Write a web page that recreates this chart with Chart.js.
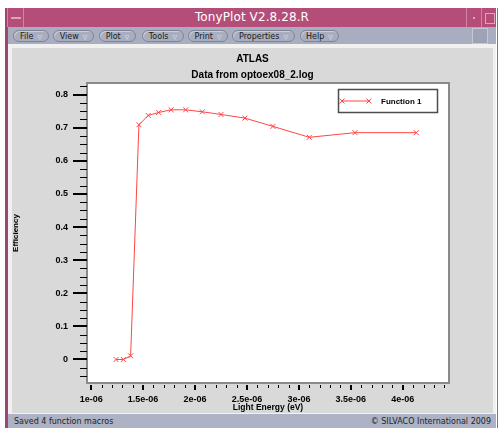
<!DOCTYPE html>
<html>
<head>
<meta charset="utf-8">
<title>TonyPlot V2.8.28.R</title>
<script src="https://cdn.jsdelivr.net/npm/chart.js@4.4.1/dist/chart.umd.min.js"></script>
<style>
  html, body { margin: 0; padding: 0; background: #fff; width: 498px; height: 428px; overflow: hidden; }
  body { position: relative; font-family: "DejaVu Sans", sans-serif; }
  .abs { position: absolute; box-sizing: border-box; }
  #edgeL { left: 5px; top: 8px; width: 3px; height: 420px; background: #9c4670; }
  #edgeR { left: 497px; top: 8px; width: 1px; height: 420px; background: #7a7a7a; }
  #titlebar { left: 7px; top: 8px; width: 489px; height: 19px; background: #b44e78; }
  #ttl { left: 24px; top: 0; width: 442px; height: 19px; line-height: 19px; text-align: center;
         color: #fff; font-size: 12px; font-family: "DejaVu Sans", sans-serif; letter-spacing: 0.1px; }
  #btnL { left: 0; top: 0; width: 17px; height: 19px; border-right: 1px solid #cf84a6; border-left: 1px solid #cf84a6; }
  #btnL i { position: absolute; left: 3px; top: 9px; width: 10px; height: 2px; background: #dca3bd; }
  .sep { top: 0; width: 1px; height: 19px; background: #cf84a6; }
  #dot { left: 466px; top: 9px; width: 2px; height: 2px; background: #dca3bd; }
  #sq { left: 478px; top: 5px; width: 10px; height: 11px; border: 1px solid #dca3bd; }
  #menubar { left: 8px; top: 27px; width: 488px; height: 17px; background: #a8aec0; }
  .pill { top: 3px; height: 12px; border: 1px solid #7f8597; border-radius: 6px;
          box-shadow: inset 1px 1px 0 #c9cdd8; font-size: 8px; color: #1a1a1a;
          display: flex; align-items: center; justify-content: center; white-space: nowrap; }
  .pill span { font-size: 6px; color: #e9ebf2; margin-left: 4px; }
  #mbox { left: 464px; top: 1px; width: 16px; height: 16px; background: #9da3b5; border: 1px solid #c4c8d4; }
  #content { left: 8px; top: 44px; width: 488px; height: 370px; background: #f1f1f1; }
  #panel { left: 12px; top: 48px; width: 481px; height: 365px; background: #d9d9d9; }
  #panel canvas { display: block; }
  #status { left: 8px; top: 414px; width: 488px; height: 14px; background: #adb3c5;
            font-size: 8px; color: #222; line-height: 14px; }
  #status .l { position: absolute; left: 6px; top: 1px; }
  #status .r { position: absolute; right: 5px; top: 1px; }
</style>
</head>
<body>
<div class="abs" id="edgeL"></div>
<div class="abs" id="titlebar">
  <div class="abs" id="btnL"><i></i></div>
  <div class="abs" id="ttl">TonyPlot V2.8.28.R</div>
  <div class="abs sep" style="left:459px"></div>
  <div class="abs" id="dot"></div>
  <div class="abs sep" style="left:474px"></div>
  <div class="abs" id="sq"></div>
</div>
<div class="abs" id="menubar">
  <div class="abs pill" style="left:5px;width:36px">File<span>▽</span></div>
  <div class="abs pill" style="left:45px;width:41px">View<span>▽</span></div>
  <div class="abs pill" style="left:91px;width:37px">Plot<span>▽</span></div>
  <div class="abs pill" style="left:134px;width:42px">Tools<span>▽</span></div>
  <div class="abs pill" style="left:180px;width:40px">Print<span>▽</span></div>
  <div class="abs pill" style="left:224px;width:63px">Properties<span>▽</span></div>
  <div class="abs pill" style="left:292px;width:39px">Help<span>▽</span></div>
  <div class="abs" id="mbox"></div>
</div>
<div class="abs" id="content"></div>
<div class="abs" id="panel"><canvas id="plot" width="481" height="365"></canvas></div>
<div class="abs" id="status"><span class="l">Saved 4 function macros</span><span class="r">© SILVACO International 2009</span></div>
<div class="abs" id="edgeR"></div>

<script>
// Photon energy sweep and the resulting efficiency
const energies = [1.24e-6, 1.31e-6, 1.38e-6, 1.46e-6, 1.55e-6, 1.65e-6, 1.77e-6, 1.91e-6,
                  2.07e-6, 2.25e-6, 2.48e-6, 2.75e-6, 3.10e-6, 3.54e-6, 4.13e-6];
const efficiency = [0.000, 0.000, 0.011, 0.709, 0.737, 0.746, 0.754, 0.754,
                    0.748, 0.740, 0.729, 0.704, 0.671, 0.685, 0.685];
const seriesName = 'Function 1';

const xTickValues = [1e-6, 1.5e-6, 2e-6, 2.5e-6, 3e-6, 3.5e-6, 4e-6];
const xTickLabels = ['1e-06', '1.5e-06', '2e-06', '2.5e-06', '3e-06', '3.5e-06', '4e-06'];
const yTickValues = [0, 0.1, 0.2, 0.3, 0.4, 0.5, 0.6, 0.7, 0.8];
const yTickLabels = ['0', '0.1', '0.2', '0.3', '0.4', '0.5', '0.6', '0.7', '0.8'];

const X_MIN = 0.96e-6, X_MAX = 4.445e-6;
const Y_MIN = -0.071, Y_MAX = 0.835;
const LINE_RED = '#ff4545';

Chart.defaults.font.family = "'Liberation Sans', Arial, sans-serif";
Chart.defaults.color = '#000';

// White plot box, gray frame, major/minor tick marks and the boxed legend
const tonyFrame = {
  id: 'tonyFrame',
  beforeDraw(chart) {
    const { ctx, chartArea: a } = chart;
    ctx.save();
    ctx.fillStyle = '#ffffff';
    ctx.fillRect(a.left, a.top, a.right - a.left, a.bottom - a.top);
    ctx.restore();
  },
  afterDatasetsDraw(chart) {
    const { ctx, chartArea: a } = chart;
    ctx.save();
    ctx.strokeStyle = '#8a8a8a';
    ctx.lineWidth = 2;
    ctx.strokeRect(a.left, a.top, a.right - a.left, a.bottom - a.top);

    // legend
    const ds = chart.data.datasets[0];
    const bw = 99, bh = 23;
    const bx = Math.round(a.right - 12 - bw), by = Math.round(a.top + 6);
    ctx.strokeStyle = '#4d4d4d';
    ctx.lineWidth = 1.5;
    ctx.strokeRect(bx + 0.5, by + 0.5, bw, bh);
    const ly = by + bh / 2 + 0.5;
    const lx1 = bx + 4, lx2 = bx + 31;
    ctx.strokeStyle = ds.borderColor;
    ctx.lineWidth = 1;
    ctx.beginPath(); ctx.moveTo(lx1, ly); ctx.lineTo(lx2, ly); ctx.stroke();
    const ps = { pointStyle: ds.pointStyle, radius: ds.pointRadius, borderWidth: 1 };
    Chart.helpers.drawPoint(ctx, ps, lx1, ly);
    Chart.helpers.drawPoint(ctx, ps, lx2, ly);
    ctx.fillStyle = '#000';
    ctx.font = "bold 8px 'Liberation Sans', Arial, sans-serif";
    ctx.textBaseline = 'middle';
    ctx.textAlign = 'left';
    ctx.fillText(ds.label, bx + 43, ly + 0.5);
    ctx.restore();
  },
  afterDraw(chart) {
    const { ctx, chartArea: a, scales } = chart;
    ctx.save();
    ctx.strokeStyle = '#000';
    // y ticks every 0.025, long ones on each 0.1
    for (let i = -3; i <= 34; i++) {
      const py = scales.y.getPixelForValue(i * 0.025);
      if (py < a.top || py > a.bottom) continue;
      const major = i % 4 === 0;
      ctx.lineWidth = major ? 2 : 1;
      const yy = major ? Math.round(py) : Math.round(py) + 0.5;
      ctx.beginPath();
      ctx.moveTo(a.left - (major ? 14 : 7), yy);
      ctx.lineTo(a.left, yy);
      ctx.stroke();
    }
    // x ticks every 0.1e-6, long ones on each 0.5e-6
    for (let i = 10; i <= 44; i++) {
      const px = scales.x.getPixelForValue(i * 1e-7);
      if (px < a.left || px > a.right) continue;
      const major = i % 5 === 0;
      ctx.lineWidth = major ? 2 : 1;
      const xx = major ? Math.round(px) : Math.round(px) + 0.5;
      ctx.beginPath();
      ctx.moveTo(xx, a.bottom + 2);
      ctx.lineTo(xx, a.bottom + (major ? 7 : 5));
      ctx.stroke();
    }
    ctx.restore();
  }
};

new Chart(document.getElementById('plot'), {
  type: 'scatter',
  data: {
    datasets: [{
      label: seriesName,
      data: energies.map((e, i) => ({ x: e, y: efficiency[i] })),
      showLine: true,
      borderColor: LINE_RED,
      backgroundColor: LINE_RED,
      borderWidth: 1,
      pointStyle: 'crossRot',
      pointRadius: 3.5,
      pointBorderWidth: 1,
      pointBorderColor: LINE_RED,
      tension: 0
    }]
  },
  options: {
    responsive: false,
    animation: false,
    devicePixelRatio: 1,
    layout: { padding: 0 },
    plugins: {
      legend: { display: false },
      tooltip: { enabled: false },
      title: {
        display: true, text: 'ATLAS', color: '#000',
        font: { size: 10, weight: 'bold', lineHeight: 1.2 },
        padding: { top: 5, bottom: 4 }
      },
      subtitle: {
        display: true, text: 'Data from optoex08_2.log', color: '#000',
        font: { size: 10, weight: 'bold', lineHeight: 1.2 },
        padding: { top: 0, bottom: 2 }
      }
    },
    scales: {
      x: {
        type: 'linear', position: 'bottom', bounds: 'data',
        min: X_MIN, max: X_MAX,
        afterBuildTicks: s => { s.ticks = xTickValues.map(v => ({ value: v })); },
        afterFit: s => { s.height = 30; },
        grid: { display: true, drawOnChartArea: false, drawTicks: true, tickLength: 6, color: 'rgba(0,0,0,0)' },
        border: { display: false },
        ticks: {
          padding: 5, color: '#000', autoSkip: false, maxRotation: 0,
          font: { size: 9, weight: 'bold', lineHeight: 1.2 },
          callback: (v, i) => xTickLabels[i]
        },
        title: {
          display: true, text: 'Light Energy (eV)', color: '#000',
          font: { size: 8.5, weight: 'bold', lineHeight: 1.2 }, padding: 0
        }
      },
      y: {
        type: 'linear', position: 'left', bounds: 'data',
        min: Y_MIN, max: Y_MAX,
        afterBuildTicks: s => { s.ticks = yTickValues.map(v => ({ value: v })); },
        afterFit: s => { s.width = 75; },
        grid: { display: true, drawOnChartArea: false, drawTicks: true, tickLength: 14, color: 'rgba(0,0,0,0)' },
        border: { display: false },
        ticks: {
          padding: 5, color: '#000', autoSkip: false,
          font: { size: 9, weight: 'bold', lineHeight: 1.2 },
          callback: (v, i) => yTickLabels[i]
        },
        title: {
          display: true, text: 'Efficiency', color: '#000',
          font: { size: 8, weight: 'bold', lineHeight: 1 }, padding: 0
        }
      },
      gutter: {
        type: 'linear', position: 'right', display: true,
        grid: { display: false }, border: { display: false },
        ticks: { display: false },
        afterFit: s => { s.width = 44; }
      }
    }
  },
  plugins: [tonyFrame]
});
</script>
</body>
</html>
